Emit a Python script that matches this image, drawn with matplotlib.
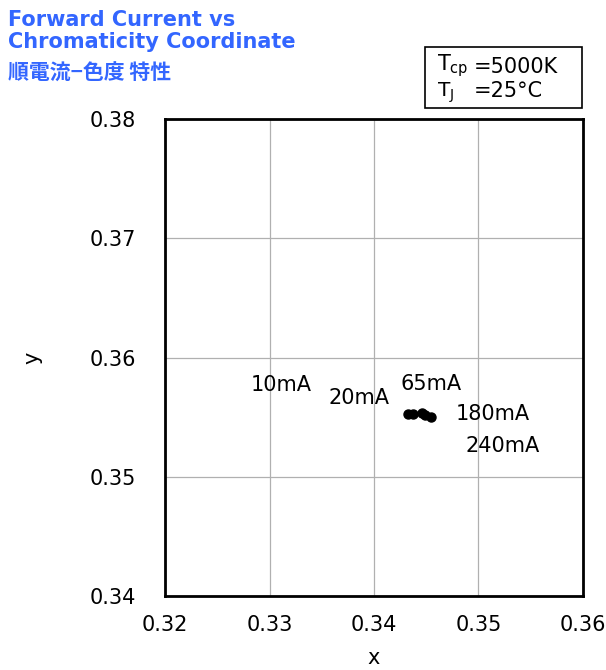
import matplotlib
matplotlib.use("Agg")
import matplotlib.pyplot as plt
from matplotlib.patches import Rectangle

plt.rcParams['font.family'] = ['DejaVu Sans', 'Noto Sans CJK JP']

# chromaticity points
x_vals = [0.34325, 0.34370, 0.34455, 0.34490, 0.34550]
y_vals = [0.35525, 0.35525, 0.35535, 0.35520, 0.35500]

# current labels and where they sit on the plot
labels = ["10mA", "20mA", "65mA", "180mA", "240mA"]
label_x = [0.3282, 0.3356, 0.3425, 0.3478, 0.3488]
label_y = [0.3577, 0.3566, 0.3578, 0.3553, 0.3526]

x_ticks = [0.32, 0.33, 0.34, 0.35, 0.36]
y_ticks = [0.34, 0.35, 0.36, 0.37, 0.38]

blue = '#3366ff'

fig = plt.figure(figsize=(6.06, 6.70), dpi=100)
ax = fig.add_axes([0.2723, 0.1104, 0.6897, 0.7120])

ax.plot(x_vals, y_vals, 'o', color='black', markersize=6.5, zorder=3)
for lab, lx, ly in zip(labels, label_x, label_y):
    ax.text(lx, ly, lab, fontsize=15, ha='left', va='center')

ax.set_xlim(0.32, 0.36)
ax.set_ylim(0.34, 0.38)
ax.set_xticks(x_ticks)
ax.set_yticks(y_ticks)
ax.set_xticklabels([f"{v:.2f}" for v in x_ticks])
ax.set_yticklabels([f"{v:.2f}" for v in y_ticks])
ax.tick_params(length=0, labelsize=15)
ax.tick_params(axis='y', pad=21)
ax.tick_params(axis='x', pad=14)
ax.grid(True, color='#b0b0b0', linewidth=0.9)
ax.set_axisbelow(True)
for sp in ax.spines.values():
    sp.set_linewidth(2)
ax.set_xlabel("x", fontsize=15, labelpad=9)
ax.set_ylabel("y", fontsize=15, labelpad=34)

fig.text(0.013, 0.985, "Forward Current vs\nChromaticity Coordinate", color=blue,
         fontsize=15, fontweight='bold', va='top', ha='left', linespacing=1.1)
fig.text(0.013, 0.890, "順電流−色度 特性", color=blue, fontsize=15,
         fontweight='bold', va='center', ha='left',
         family=['Noto Sans CJK JP', 'DejaVu Sans'])

# condition box
fig.patches.append(Rectangle((0.7013, 0.8388), 0.2591, 0.0911, transform=fig.transFigure,
                             facecolor='white', edgecolor='black', linewidth=1.2))
fig.text(0.7211, 0.902, "T$_{\\mathrm{cp}}$", fontsize=15, va='center', ha='left')
fig.text(0.7211, 0.862, "T$_{\\mathrm{J}}$", fontsize=14.5, va='center', ha='left')
fig.text(0.782, 0.882, "=5000K\n=25°C", fontsize=15, va='center', ha='left',
         linespacing=1.2)

fig.savefig("out.png", dpi=100)
